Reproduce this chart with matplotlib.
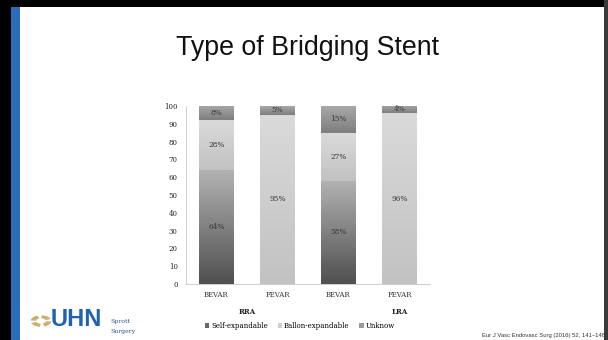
import numpy as np
import matplotlib
matplotlib.use("Agg")
import matplotlib.pyplot as plt
from matplotlib.patches import Rectangle, Wedge
from matplotlib.colors import LinearSegmentedColormap

categories = ["BEVAR", "FEVAR", "BEVAR", "FEVAR"]
groups = ["RRA", "LRA"]
group_pos = [0.5, 3]
series_names = ["Self-expandable", "Ballon-expandable", "Unknow"]
self_exp = [64, 0, 58, 0]
ballon_exp = [28, 95, 27, 96]
unknow = [8, 5, 15, 4]
yticks = [0, 10, 20, 30, 40, 50, 60, 70, 80, 90, 100]

W, H = 608, 340
fig = plt.figure(figsize=(W / 100, H / 100), dpi=100)
fig.patch.set_facecolor("white")

def px(x0, y0, w, h, color):
    fig.add_artist(Rectangle((x0 / W, 1 - (y0 + h) / H), w / W, h / H,
                             transform=fig.transFigure, facecolor=color,
                             edgecolor="none", zorder=0))

# slide frame
px(0, 0, W, 7, "#000000")
px(0, 0, 11, H, "#000000")
px(11, 7, 9, H - 7, "#2a6ebb")
px(604, 0, 4, H, "#3a3a3a")

fig.text(307 / W, 1 - 55 / H, "Type of Bridging Stent", ha="center", va="baseline",
         fontsize=19.3, family="Liberation Sans", color="#111111")

ax = fig.add_axes([186 / W, 1 - 284 / H, (430 - 186) / W, (284 - 106) / H])
ax.set_facecolor("none")
x = np.arange(len(categories))
width = 0.57

grads = {
    0: ("#505050", "#b2b2b2"),
    1: ("#c2c2c2", "#dadada"),
    2: ("#7e7e7e", "#a8a8a8"),
}
series = [self_exp, ballon_exp, unknow]
bottom = np.zeros(len(categories))
for si, vals in enumerate(series):
    bars = ax.bar(x, vals, width, bottom=bottom, color="none", edgecolor="none",
                  label=series_names[si])
    cmap = LinearSegmentedColormap.from_list("g%d" % si, list(grads[si]))
    for b in bars:
        h = b.get_height()
        if h <= 0:
            continue
        x0, y0, w = b.get_x(), b.get_y(), b.get_width()
        grad = np.linspace(0, 1, 64).reshape(-1, 1)
        ax.imshow(grad, extent=(x0, x0 + w, y0, y0 + h), origin="lower",
                  cmap=cmap, aspect="auto", zorder=2)
    for xi, (b0, v) in enumerate(zip(bottom, vals)):
        if v > 0:
            ax.text(xi, b0 + v / 2 + (0 if v > 6 else 0.5), f"{v}%", ha="center",
                    va="center", fontsize=5.3, family="DejaVu Serif", color="#3a3a3a",
                    zorder=3)
    bottom = bottom + np.array(vals)

ax.set_xlim(-0.5, 3.5)
ax.set_ylim(0, 100)
ax.set_yticks(yticks)
ax.set_yticklabels([str(t) for t in yticks], fontsize=5, family="DejaVu Serif",
                   color="#222222")
ax.set_xticks(x)
ax.set_xticklabels(categories, fontsize=5, family="DejaVu Serif", color="#333333")
ax.tick_params(length=0, pad=6)
ax.tick_params(axis="x", pad=5)
for s in ["top", "right"]:
    ax.spines[s].set_visible(False)
for s in ["left", "bottom"]:
    ax.spines[s].set_color("#c8c8c8")
    ax.spines[s].set_linewidth(0.6)

for g, gp in zip(groups, group_pos):
    ax.text(gp, -16, g, ha="center", va="center", fontsize=5, fontweight="bold",
            family="DejaVu Serif", color="#222222", clip_on=False)

leg_colors = ["#666666", "#cfcfcf", "#9a9a9a"]
handles = [Rectangle((0, 0), 1, 1, facecolor=c, edgecolor="none") for c in leg_colors]
fig.legend(handles, series_names, loc="center", bbox_to_anchor=(300 / W, 1 - 326 / H),
           ncol=3, frameon=False, prop={"family": "DejaVu Serif", "size": 5},
           handlelength=0.6, handleheight=0.6, handletextpad=0.3, columnspacing=1.4)

# logo
lx, ly = 41 / W, 1 - 321 / H
for ang in [20, 110, 200, 290]:
    fig.add_artist(Wedge((lx, ly), 0.017, ang, ang + 65, width=0.009,
                         transform=fig.transFigure, facecolor="#c9b070",
                         edgecolor="none"))
fig.text(51 / W, 1 - 320 / H, "UHN", ha="left", va="center", fontsize=17,
         fontweight="bold", family="Liberation Sans", color="#1f63b0")
fig.text(110 / W, 1 - 321 / H, "Sprott", ha="left", va="center", fontsize=4.5,
         family="DejaVu Serif", color="#2b5a90")
fig.text(110 / W, 1 - 331 / H, "Surgery", ha="left", va="center", fontsize=4.5,
         family="DejaVu Serif", color="#2b5a90")

fig.text(482 / W, 1 - 336 / H, "Eur J Vasc Endovasc Surg (2016) 52, 141\u2013148",
         ha="left", va="center", fontsize=4.2, family="Liberation Sans",
         color="#333333")

fig.savefig("out.png", dpi=100)
